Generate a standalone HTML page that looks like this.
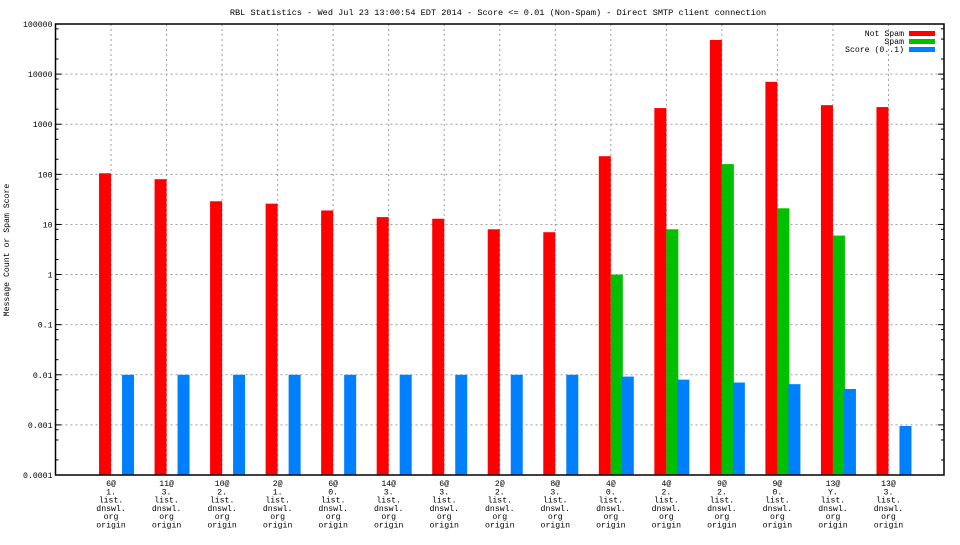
<!DOCTYPE html>
<html><head><meta charset="utf-8"><style>
body{margin:0;background:#fff;}
svg text{font-family:"Liberation Mono","DejaVu Sans Mono",monospace;font-size:8.2px;fill:#000;}
svg text.title{font-size:8.6px;}
</style></head><body>
<svg id="chart" width="960" height="540" viewBox="0 0 960 540" xmlns="http://www.w3.org/2000/svg">
<rect width="960" height="540" fill="#fff"/>
<text class="title" x="498" y="15" text-anchor="middle">RBL Statistics - Wed Jul 23 13:00:54 EDT 2014 - Score &lt;= 0.01 (Non-Spam) - Direct SMTP client connection</text>
<text transform="translate(9,250) rotate(-90)" text-anchor="middle">Message Count or Spam Score</text>
<g id="grid"></g><g id="bars"></g><g id="axes"></g>
<g>
<text x="904" y="36" text-anchor="end">Not Spam</text>
<rect x="909" y="31" width="26" height="5" fill="#ff0000"/>
<text x="904" y="44" text-anchor="end">Spam</text>
<rect x="909" y="39" width="26" height="5" fill="#00c000"/>
<text x="904" y="52" text-anchor="end">Score (0..1)</text>
<rect x="909" y="47" width="26" height="5" fill="#0080ff"/>
</g>
</svg>
<script>
const categories=[["6@","1."],["11@","3."],["10@","2."],["2@","1."],["6@","0."],["14@","3."],["6@","3."],["2@","2."],["8@","3."],["4@","0."],["4@","2."],["9@","2."],["9@","0."],["13@","Y."],["13@","3."]];
const notSpam=[105,80,29,26,19,14,13,8,7,230,2100,48000,7000,2400,2200];
const spam=[0,0,0,0,0,0,0,0,0,1,8,160,21,6,0];
const score=[0.01,0.01,0.01,0.01,0.01,0.01,0.01,0.01,0.01,0.0092,0.008,0.007,0.0065,0.0052,0.00095];
const yTicks=["100000","10000","1000","100","10","1","0.1","0.01","0.001","0.0001"];
const L=55.5,R=944,T=24,B=475;
const X=i=>L+(i+1)*(R-L)/(categories.length+1);
const Y=v=>T+(5-Math.log10(v))*(B-T)/9;
const NS="http://www.w3.org/2000/svg";
function mk(tag,attrs,parent,txt){const e=document.createElementNS(NS,tag);for(const k in attrs)e.setAttribute(k,attrs[k]);if(txt!==undefined)e.textContent=txt;parent.appendChild(e);return e;}
const grid=document.getElementById('grid'),bars=document.getElementById('bars'),axes=document.getElementById('axes');
yTicks.forEach(t=>{const y=Y(parseFloat(t));
 if(y>T+1&&y<B-1){const g=mk('line',{x1:L,x2:R,y1:y,y2:y,stroke:'#a0a0a0','stroke-dasharray':'2,3'},grid);
 
 }
 const tx=mk('text',{x:L-3,y:y+3,'text-anchor':'end'},axes,t);
 
 
 [L,R-6].forEach(x0=>{mk('line',{x1:x0,x2:x0+6,y1:y,y2:y,stroke:'#000'},axes);});
 if(parseFloat(t)<100000){[2,5,8].forEach(m=>{const ym=Y(parseFloat(t)*m);[L,R-3].forEach(x0=>mk('line',{x1:x0,x2:x0+3,y1:ym,y2:ym,stroke:'#000'},axes));});}
});
categories.forEach((c,i)=>{const x=X(i);
 const g=mk('line',{x1:x,x2:x,y1:T,y2:B,stroke:'#a0a0a0','stroke-dasharray':'2,3'},grid);
 
 
 const lines=[c[0],c[1],"list.","dnswl.","org","origin"];
 lines.forEach((s,k)=>{const t=mk('text',{x:x,y:486+k*8.3,'text-anchor':'middle'},axes,s);
  
  });
 const series=[[notSpam[i],'#ff0000',x-12,'bar-not-spam'],[spam[i],'#00c000',x,'bar-spam'],[score[i],'#0080ff',x+11,'bar-score']];
 series.forEach(s=>{if(s[0]>0){const y=Y(s[0]);const r=mk('rect',{x:s[2],y:y,width:12,height:B-y,fill:s[1]},bars);
  
  }});
});
const fr=mk('rect',{x:L,y:T,width:R-L,height:B-T,fill:'none',stroke:'#000','stroke-width':1.5},axes);


</script>
</body></html>
